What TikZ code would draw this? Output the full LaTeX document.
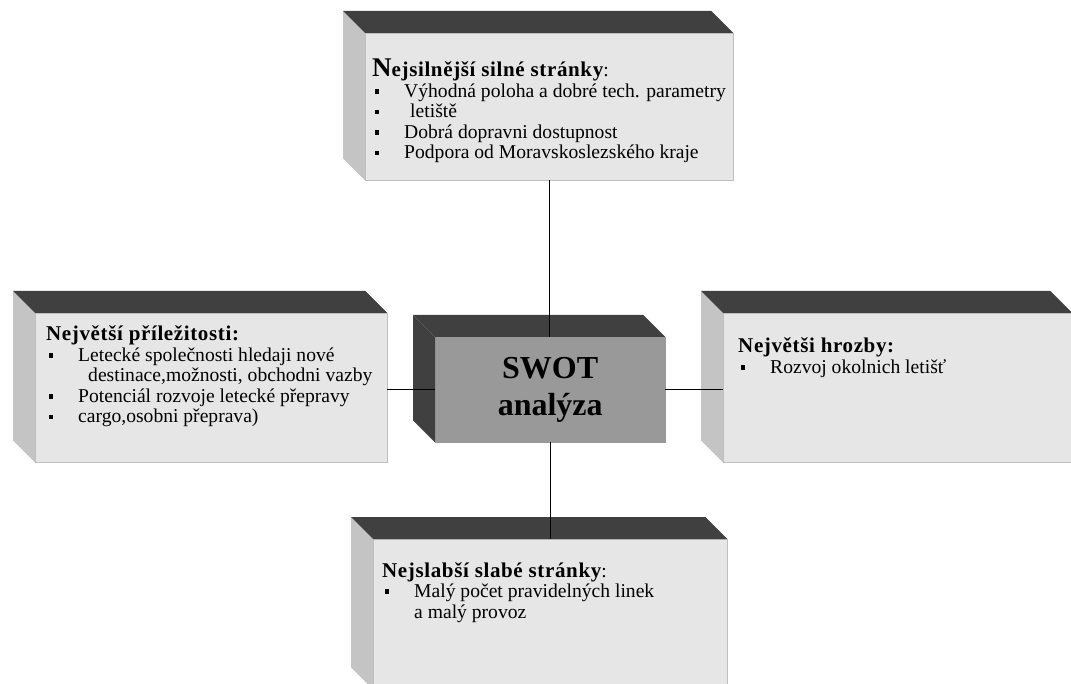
\documentclass[tikz,border=0pt]{standalone}
\usepackage{fontspec}
\setmainfont{Liberation Serif}
\usetikzlibrary{calc}
\definecolor{facefront}{HTML}{E6E6E6}
\definecolor{faceside}{HTML}{C4C4C4}
\definecolor{facetop}{HTML}{404040}
\definecolor{swotfront}{HTML}{999999}
\newcommand{\sqb}{\rule[0.2em]{3.5pt}{4.2pt}}
\newcommand{\itm}{\makebox[32pt][l]{\hspace{3pt}\sqb}}
\newcommand{\hd}[1]{{\fontsize{21}{20.5}\selectfont\bfseries\addfontfeature{LetterSpace=3}#1}}

\begin{document}
\begin{tikzpicture}[x=1pt, y=-1pt]
    \tikzset{
        front/.style={draw=black!25, fill=facefront, anchor=north west, inner sep=0pt},
        swot/.style={front, fill=swotfront, draw=swotfront},
        items/.style={anchor=base west, inner sep=0pt, font=\fontsize{19.6}{20.5}\selectfont},
        link/.style={draw=black, line width=1.1pt}
    }
    \clip (0,0) rectangle (1071,684);
    \fill[white] (0,0) rectangle (1071,684);

    \node[front, minimum width=368pt, minimum height=147pt] (S) at (365,33) {};
    \node[front, minimum width=352pt, minimum height=149pt] (O) at (35,313) {};
    \node[front, minimum width=349pt, minimum height=149pt] (T) at (723,313) {};
    \node[front, minimum width=354pt, minimum height=150pt] (W) at (373,539) {};
    \node[swot, minimum width=230pt, minimum height=105pt, align=center,
          font=\fontsize{32}{37}\selectfont\bfseries] (C) at (435,337) {SWOT\\analýza};

    \foreach \n/\side/\top in {S/faceside/facetop, O/faceside/facetop, T/faceside/facetop,
                               W/faceside/facetop, C/facetop/facetop} {
        \fill[\side] (\n.north west) -- ++(-22,-22) -- ($(\n.south west)+(-22,-22)$) -- (\n.south west) -- cycle;
        \fill[\top] (\n.north west) -- ++(-22,-22) -- ($(\n.north east)+(-22,-22)$) -- (\n.north east) -- cycle;
    }

    \node[items] (Stxt) at (372,77) {\begin{tabular}[t]{@{}l@{}}
        \hd{{\fontsize{27}{20.5}\selectfont N}ejsilnější silné stránky}:\\
        \itm Výhodná poloha a dobré tech. parametry\\
        \itm \hspace*{6pt}letiště\\
        \itm Dobrá dopravni dostupnost\\
        \itm Podpora od Moravskoslezského kraje
    \end{tabular}};
    \node[items] (Otxt) at (46,341) {\begin{tabular}[t]{@{}l@{}}
        \hd{Největší příležitosti:}\\
        \itm Letecké společnosti hledaji nové\\
        \hspace*{42pt}destinace,možnosti, obchodni vazby\\
        \itm Potenciál rozvoje letecké přepravy\\
        \itm cargo,osobni přeprava)
    \end{tabular}};
    \node[items] (Ttxt) at (738,353) {\begin{tabular}[t]{@{}l@{}}
        \hd{Největši hrozby:}\\
        \itm Rozvoj okolnich letišť
    \end{tabular}};
    \node[items] (Wtxt) at (382,577) {\begin{tabular}[t]{@{}l@{}}
        \hd{Nejslabší slabé stránky}:\\
        \itm Malý počet pravidelných linek\\
        \hspace*{32pt}a malý provoz
    \end{tabular}};

    \draw[link] (S.south) -- (S.south |- C.north);
    \draw[link] (C.west) -- (C.west -| O.east);
    \draw[link] (C.east) -- (C.east -| T.west);
    \draw[link] (C.south) -- (C.south |- W.north);
\end{tikzpicture}
\end{document}
